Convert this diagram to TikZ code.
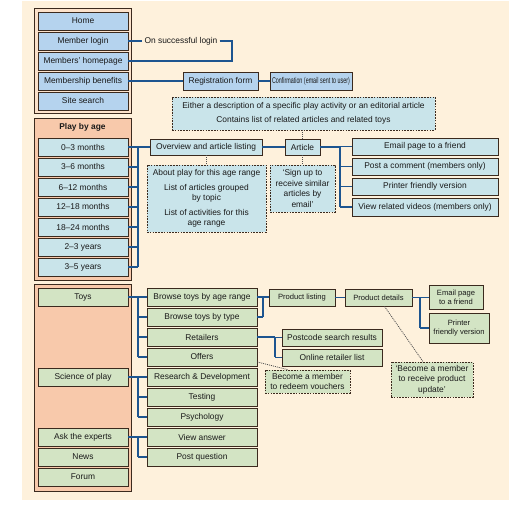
\documentclass[tikz,border=0pt]{standalone}
\usepackage{fontspec}
\setmainfont{Liberation Sans}
\definecolor{cream}{HTML}{FEF1DC}
\definecolor{peachL}{HTML}{FCE2CB}
\definecolor{salmon}{HTML}{F8C9AB}
\definecolor{blueF}{HTML}{B5D3EE}
\definecolor{tealF}{HTML}{C9E4EA}
\definecolor{greenF}{HTML}{D3E4C4}
\definecolor{edgec}{HTML}{3B2A1E}
\definecolor{wirec}{HTML}{1D5590}
\definecolor{dotc}{HTML}{505050}
\newcommand\fs{\fontsize{8.4}{10.4}\selectfont}
\newcommand\fsm{\fontsize{7.6}{9.2}\selectfont}
\newcommand\bx[7]{\node[#1, minimum width={(#5)-(#3)}, minimum height={(#6)-(#4)}] (#2) at ({((#3)+(#5))/2},{((#4)+(#6))/2}) {#7};}
\tikzset{
  box/.style={draw=edgec, line width=0.8pt, inner sep=0pt, font=\fs, text=black!90, align=center},
  bluebox/.style={box, fill=blueF},
  tealbox/.style={box, fill=tealF},
  greenbox/.style={box, fill=greenF},
  notebox/.style={dash pattern=on 1.6pt off 1.2pt},
  panel/.style={draw=edgec, line width=0.8pt},
  wire/.style={draw=wirec, line width=1.6pt},
  dots/.style={draw=dotc, line width=0.8pt, dash pattern=on 1pt off 1pt}
}
\begin{document}
\begin{tikzpicture}[x=1pt,y=-1pt]
\useasboundingbox (0,0) rectangle (523,505);
\fill[cream] (22,1) rectangle (509,500);
% panels
\draw[panel, fill=peachL] (34,8) rectangle (131,113);
\draw[panel, fill=salmon] (34,118) rectangle (131,280);
\draw[panel, fill=salmon] (34,284) rectangle (131,491);
% panel 1
\bx{bluebox}{home}{38}{12}{128}{30}{Home}
\bx{bluebox}{login}{38}{32}{128}{50}{Member login}
\bx{bluebox}{homepage}{38}{52}{128}{70}{Members' homepage}
\bx{bluebox}{benefits}{38}{72}{128}{90}{Membership benefits}
\bx{bluebox}{search}{38}{92}{128}{110}{Site search}
\node[font=\fs, inner sep=2pt, text=black!90] (succ) at (181,41) {On successful login};
\coordinate (k1) at (232,41);
\bx{bluebox}{reg}{183}{72}{258}{90}{Registration form}
\bx{bluebox}{conf}{270}{72}{352}{90}{\scalebox{0.64}[1]{Confirmation (email sent to user)}}
% panel 2
\node[font=\fs\bfseries, text=black!90] (pba) at (82.5,127.5) {Play by age};
\bx{tealbox}{m03}{38}{138}{128}{156}{0--3 months}
\bx{tealbox}{m36}{38}{158}{128}{176}{3--6 months}
\bx{tealbox}{m612}{38}{178}{128}{196}{6--12 months}
\bx{tealbox}{m1218}{38}{198}{128}{216}{12--18 months}
\bx{tealbox}{m1824}{38}{218}{128}{236}{18--24 months}
\bx{tealbox}{y23}{38}{238}{128}{256}{2--3 years}
\bx{tealbox}{y35}{38}{258}{128}{276}{3--5 years}
\bx{tealbox,notebox}{info}{172}{97}{435}{130}{Either a description of a specific play activity or an editorial article\\[3pt]Contains list of related articles and related toys}
\bx{tealbox}{overview}{150}{139}{262}{155}{Overview and article listing}
\bx{tealbox}{article}{285}{139}{320}{155}{Article}
\bx{tealbox,notebox}{about}{147}{165}{266}{232}{About play for this age range\\[4pt]List of articles grouped\\by topic\\[4pt]List of activities for this\\age range}
\bx{tealbox,notebox}{signup}{270}{165}{335}{212}{‘Sign up to\\receive similar\\articles by\\email’}
\bx{tealbox}{email1}{352}{138}{498}{155}{Email page to a friend}
\bx{tealbox}{comment}{352}{158}{498}{175}{Post a comment (members only)}
\bx{tealbox}{printer1}{352}{178}{498}{195}{Printer friendly version}
\bx{tealbox}{videos}{352}{198}{498}{216}{View related videos (members only)}
% panel 3
\bx{greenbox}{toys}{38}{288}{128}{306}{Toys}
\bx{greenbox}{science}{38}{368}{128}{386}{Science of play}
\bx{greenbox}{ask}{38}{428}{128}{446}{Ask the experts}
\bx{greenbox}{news}{38}{448}{128}{466}{News}
\bx{greenbox}{forum}{38}{468}{128}{486}{Forum}
\bx{greenbox}{bage}{147}{288}{257}{306}{Browse toys by age range}
\bx{greenbox}{btype}{147}{308}{257}{326}{Browse toys by type}
\bx{greenbox}{retail}{147}{328}{257}{346}{Retailers}
\bx{greenbox}{offers}{147}{348}{257}{366}{Offers}
\bx{greenbox}{rnd}{147}{368}{257}{386}{Research \& Development}
\bx{greenbox}{testing}{147}{388}{257}{406}{Testing}
\bx{greenbox}{psych}{147}{408}{257}{426}{Psychology}
\bx{greenbox}{view}{147}{428}{257}{446}{View answer}
\bx{greenbox}{post}{147}{448}{257}{466}{Post question}
\bx{greenbox,font=\fsm}{plist}{269}{289}{335}{306}{Product listing}
\bx{greenbox,font=\fsm}{pdet}{345}{289}{412}{306}{Product details}
\bx{greenbox,font=\fsm}{email2}{429}{285}{483}{309}{Email page\\to a friend}
\bx{greenbox,font=\fsm}{printer2}{429}{313}{489}{343}{Printer\\friendly version}
\bx{greenbox}{postcode}{282}{329}{382}{346}{Postcode search results}
\bx{greenbox}{online}{282}{349}{382}{366}{Online retailer list}
\bx{greenbox,notebox}{vouch}{265}{370}{350}{393}{Become a member\\to redeem vouchers}
\bx{greenbox,notebox}{update}{391}{362}{473}{397}{‘Become a member\\to receive product\\update’}
% connectors top
\draw[wire] (login.east) -- (succ.west);
\draw[wire] (succ.east) -- (k1) |- (homepage.east);
\draw[wire] (benefits) -- (reg);
\draw[wire] (reg) -- (conf);
% play by age bus
\coordinate (pbus) at (138,0);
\foreach \n in {m03,m36,m612,m1218,m1824,y23,y35}
  \draw[wire] (\n.east) -- (\n.east -| pbus);
\draw[wire] (m03.east -| pbus) -- (y35.east -| pbus);
\draw[wire] (m03.east -| pbus) -- (overview.west);
\draw[wire] (overview) -- (article);
\coordinate (abus) at (340,0);
\draw[wire] (article.east) -- (article.east -| abus);
\draw[wire] (article.east -| abus) -- (videos.west -| abus);
\foreach \n in {email1,comment,printer1,videos}
  \draw[wire] (\n.west -| abus) -- (\n.west);
\draw[dots] (article.north |- info.south) -- (article.north);
\draw[dots] (overview.south) -- (about.north -| overview.south);
\draw[dots] (article.south) -- (signup.north);
% toys
\coordinate (tbus) at (138,0);
\draw[wire] (toys.east) -- (toys.east -| tbus);
\draw[wire] (toys.east -| tbus) -- (offers.west -| tbus);
\foreach \n in {bage,btype,retail,offers}
  \draw[wire] (\n.west -| tbus) -- (\n.west);
\draw[wire] (science.east) -- (science.east -| tbus);
\draw[wire] (science.east -| tbus) -- (psych.west -| tbus);
\foreach \n in {rnd,testing,psych}
  \draw[wire] (\n.west -| tbus) -- (\n.west);
\draw[wire] (ask.east) -- (ask.east -| tbus);
\draw[wire] (ask.east -| tbus) -- (post.west -| tbus);
\foreach \n in {view,post}
  \draw[wire] (\n.west -| tbus) -- (\n.west);
% product listing
\coordinate (plbus) at (263,0);
\draw[wire] (bage.east) -- (bage.east -| plbus);
\draw[wire] (btype.east) -- (btype.east -| plbus);
\draw[wire] (bage.east -| plbus) -- (btype.east -| plbus);
\draw[wire] (bage.east -| plbus) -- (plist.west |- bage.east);
\draw[wire] (plist) -- (pdet);
\coordinate (pdbus) at (420,0);
\draw[wire] (pdet.east) -- (pdet.east -| pdbus);
\draw[wire] (pdet.east -| pdbus) -- (printer2.west -| pdbus);
\draw[wire] (pdet.east -| pdbus) -- (email2.west |- pdet.east);
\draw[wire] (printer2.west -| pdbus) -- (printer2.west);
% retailers
\coordinate (rbus) at (275,0);
\draw[wire] (retail.east) -- (retail.east -| rbus);
\draw[wire] (retail.east -| rbus) -- (online.west -| rbus);
\draw[wire] (postcode.west -| rbus) -- (postcode.west);
\draw[wire] (online.west -| rbus) -- (online.west);
% notes
\draw[dots] ([yshift=-5pt]offers.east) -- ([xshift=-20pt]vouch.north east -| vouch.north);
\draw[dots] ([xshift=6pt]pdet.south) -- ([xshift=-9pt]update.north);
\end{tikzpicture}
\end{document}
